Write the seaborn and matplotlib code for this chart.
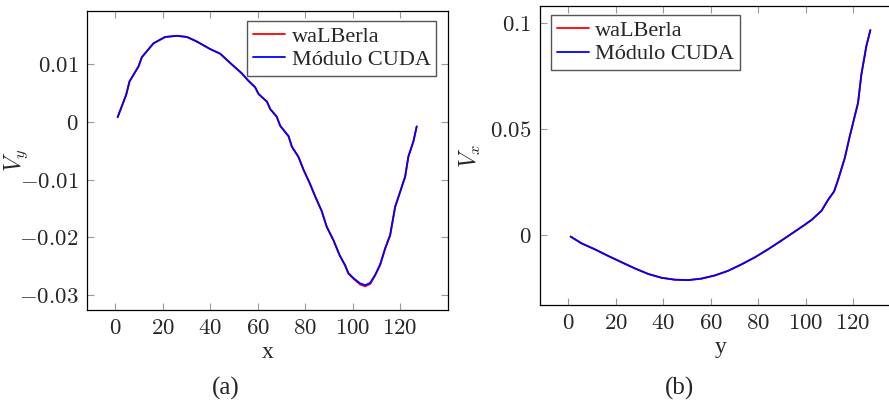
import matplotlib
matplotlib.use("Agg")
import matplotlib.pyplot as plt
from matplotlib.ticker import FuncFormatter
import pandas as pd
import seaborn as sns


# panel (a): Vy along x
xa = [1, 4.6, 6, 9.8, 11.2, 16.1, 21, 26, 30.2, 34.4, 40, 44.2, 48.4, 53.3, 56.1,
      58.9, 60.4, 63.9, 65.3, 68, 69.5, 73, 74.4, 77.2, 79.3, 82.1, 84.2, 87,
      89.1, 91.9, 94.5, 96.8, 98.2, 100.4, 103.2, 105.3, 107.4, 109.5, 111.6,
      113.7, 115.8, 117.9, 120, 122.1, 123.5, 125.6, 127]
vy_cuda = [0.0008, 0.0047, 0.0070, 0.0096, 0.0112, 0.0136, 0.0147, 0.0149, 0.0147,
           0.0139, 0.0126, 0.0118, 0.0102, 0.0084, 0.0071, 0.0060, 0.0048, 0.0035,
           0.0022, 0.0009, -0.0007, -0.0025, -0.0043, -0.0061, -0.0083, -0.0108,
           -0.0129, -0.0155, -0.0182, -0.0205, -0.0231, -0.0248, -0.0262, -0.0271,
           -0.0280, -0.0283, -0.0279, -0.0265, -0.0247, -0.0219, -0.0196, -0.0147,
           -0.0121, -0.0095, -0.0060, -0.0034, -0.0008]
vy_walberla = [0.0008, 0.0047, 0.0070, 0.0096, 0.0112, 0.0136, 0.0147, 0.0149, 0.0147,
               0.0139, 0.0126, 0.0118, 0.0102, 0.0084, 0.0071, 0.0060, 0.0048, 0.0035,
               0.0022, 0.0009, -0.0007, -0.0025, -0.0043, -0.0061, -0.0083, -0.0108,
               -0.0129, -0.0155, -0.0182, -0.0205, -0.0231, -0.0249, -0.0263, -0.0272,
               -0.0282, -0.0285, -0.0281, -0.0266, -0.0248, -0.0220, -0.0197, -0.0148,
               -0.0122, -0.0096, -0.0060, -0.0034, -0.0008]

# panel (b): Vx along y
yb = [1, 5.6, 11.2, 16.8, 22.5, 28.1, 33.7, 39.3, 44.9, 50.5, 56.1, 61.8, 67.4, 73,
      78.6, 84.2, 89.8, 95.4, 99.6, 102.5, 106.7, 109.5, 112, 113.7, 116.5, 118.6,
      122.1, 123.5, 125.6, 127.3]
vx_cuda = [-0.0006, -0.0038, -0.0066, -0.0097, -0.0127, -0.0156, -0.0182, -0.0200,
           -0.0209, -0.0211, -0.0204, -0.0189, -0.0167, -0.0137, -0.0104, -0.0066,
           -0.0025, 0.0017, 0.0049, 0.0072, 0.0115, 0.0167, 0.0206, 0.0261, 0.0363,
           0.0465, 0.0623, 0.0756, 0.0890, 0.0965]
vx_walberla = list(vx_cuda)

labels = ["waLBerla", "Módulo CUDA"]
colors = ["red", "blue"]

sns.set_theme(style="ticks")
plt.rcParams["font.family"] = ["Liberation Serif", "DejaVu Serif"]
plt.rcParams["mathtext.fontset"] = "cm"
plt.rcParams["font.size"] = 15.5

fig = plt.figure(figsize=(8.89, 4.03), dpi=100)
ax_a = fig.add_axes([0.0979, 0.2308, 0.4061, 0.7419])
ax_b = fig.add_axes([0.6074, 0.2432, 0.4061, 0.7427])

math_fmt = FuncFormatter(lambda v, pos: f"${v:g}$")


def style_axis(ax, xlabel, ylabel):
    for s in ax.spines.values():
        s.set_color("black")
        s.set_linewidth(0.9)
    ax.tick_params(direction="in", top=True, right=True, length=5, width=0.8,
                   color="#999999", labelsize=16.5, pad=6)
    ax.xaxis.set_major_formatter(math_fmt)
    ax.yaxis.set_major_formatter(math_fmt)
    ax.set_xticks([0, 20, 40, 60, 80, 100, 120])
    ax.set_xlim(-11.9, 140.2)
    ax.set_xlabel(xlabel, fontsize=17, labelpad=2)
    ax.set_ylabel(ylabel, fontsize=17)
    ax.yaxis.set_label_coords(-0.158, 0.5)


df_a = pd.DataFrame({"x": xa * 2, "v": vy_walberla + vy_cuda,
                     "src": [labels[0]] * len(xa) + [labels[1]] * len(xa)})
sns.lineplot(data=df_a, x="x", y="v", hue="src", palette=colors, ax=ax_a,
             linewidth=1.3, estimator=None)
style_axis(ax_a, "x", "$V_y$")
ax_a.set_yticks([0.01, 0, -0.01, -0.02, -0.03])
ax_a.set_ylim(-0.0326, 0.0192)
ax_a.legend(loc="upper right", bbox_to_anchor=(0.967, 0.967), borderaxespad=0,
            fancybox=False, edgecolor="#555555", framealpha=1, fontsize=16,
            handlelength=1.45, handletextpad=0.3, labelspacing=0.12, borderpad=0.25)

df_b = pd.DataFrame({"y": yb * 2, "v": vx_walberla + vx_cuda,
                     "src": [labels[0]] * len(yb) + [labels[1]] * len(yb)})
sns.lineplot(data=df_b, x="y", y="v", hue="src", palette=colors, ax=ax_b,
             linewidth=1.3, estimator=None)
style_axis(ax_b, "y", "$V_x$")
ax_b.set_yticks([0, 0.05, 0.1])
ax_b.set_ylim(-0.0328, 0.108)
ax_b.legend(loc="upper left", bbox_to_anchor=(0.0305, 0.969), borderaxespad=0,
            fancybox=False, edgecolor="#555555", framealpha=1, fontsize=16,
            handlelength=1.45, handletextpad=0.3, labelspacing=0.12, borderpad=0.25)

fig.text(226 / 889, 1 - 388 / 403, "(a)", ha="center", va="center", fontsize=18)
fig.text(679 / 889, 1 - 388 / 403, "(b)", ha="center", va="center", fontsize=18)

fig.savefig("out.png", dpi=100)
